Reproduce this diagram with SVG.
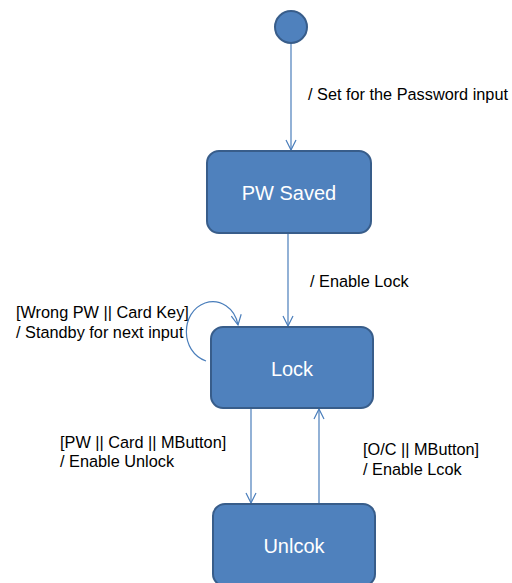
<svg xmlns="http://www.w3.org/2000/svg" width="512" height="583" viewBox="0 0 512 583">
<style>
.st{fill:#4F81BD;stroke:#385D8A;stroke-width:2}
.nt{font-family:"Liberation Sans",Arial,sans-serif;font-size:20px;fill:#FFFFFF;text-anchor:middle}
.lb{font-family:"Liberation Sans",Arial,sans-serif;font-size:16.3px;fill:#000000}
.cn{fill:none;stroke:#4A7EBB;stroke-width:1.2}
</style>
<defs>
<marker id="ah" viewBox="0 0 12 12" refX="11" refY="6" markerWidth="12" markerHeight="12" markerUnits="userSpaceOnUse" orient="auto">
<path d="M1,1 L11,6 L1,11" fill="none" stroke="#4A7EBB" stroke-width="1.2"/>
</marker>
</defs>
<rect width="512" height="583" fill="#FFFFFF"/>
<g id="connectors">
<line class="cn" x1="291" y1="43" x2="291" y2="150" marker-end="url(#ah)"/>
<line class="cn" x1="288" y1="234" x2="288" y2="326" marker-end="url(#ah)"/>
<path class="cn" d="M206,361 C180,352 180,312 205,303 C220,298 235,308 238,325" marker-end="url(#ah)"/>
<line class="cn" x1="251" y1="409" x2="251" y2="503" marker-end="url(#ah)"/>
<line class="cn" x1="319" y1="504" x2="319" y2="409" marker-end="url(#ah)"/>
</g>
<g id="start">
<circle cx="291" cy="27" r="16" class="st"/>
</g>
<g id="pw_saved">
<rect x="207" y="151" width="164" height="82" rx="12" class="st"/>
<text x="289" y="200" class="nt">PW Saved</text>
</g>
<g id="lock">
<rect x="211" y="327" width="162" height="81" rx="12" class="st"/>
<text x="292" y="376" class="nt">Lock</text>
</g>
<g id="unlock">
<rect x="213" y="504" width="162" height="82" rx="12" class="st"/>
<text x="294" y="553" class="nt">Unlcok</text>
</g>
<g id="labels">
<text x="308" y="100" class="lb">/ Set for the Password input</text>
<text x="310" y="287" class="lb">/ Enable Lock</text>
<text x="16" y="318" class="lb">[Wrong PW || Card Key]</text>
<text x="16" y="338" class="lb">/ Standby for next input</text>
<text x="60" y="448" class="lb">[PW || Card || MButton]</text>
<text x="60" y="467" class="lb">/ Enable Unlock</text>
<text x="363" y="455" class="lb">[O/C || MButton]</text>
<text x="363" y="475" class="lb">/ Enable Lcok</text>
</g>
</svg>
